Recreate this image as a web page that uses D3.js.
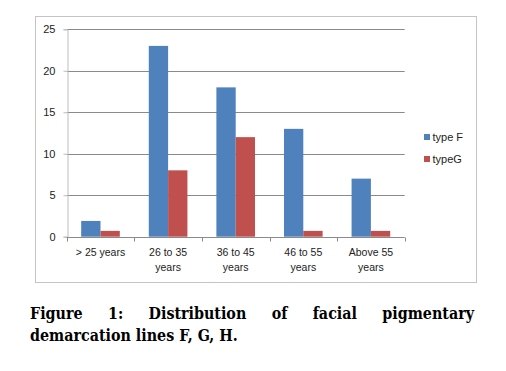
<!DOCTYPE html>
<html>
<head>
<meta charset="utf-8">
<script src="https://cdn.jsdelivr.net/npm/d3@7"></script>
<style>
  body { margin: 0; background: #fff; }
  svg { display: block; }
</style>
</head>
<body>
<svg id="chart" width="506" height="371"></svg>
<script>
// data
let categories = [["> 25 years"], ["26 to 35", "years"], ["36 to 45", "years"], ["46 to 55", "years"], ["Above 55", "years"]];
let typeF = [1.9, 23, 18, 13, 7];
let typeG = [0.7, 8, 12, 0.7, 0.7];
let seriesNames = ["type F", "typeG"];
let seriesColors = ["#4f81bd", "#c0504d"];
let yTicks = [0, 5, 10, 15, 20, 25];
let captionLine1 = ["Figure", "1:", "Distribution", "of", "facial", "pigmentary"];
let captionLine2 = "demarcation lines F, G, H.";

let svg = d3.select("#chart");
let plot = { left: 66.7, right: 404.7, top: 29.3, bottom: 236.7 };

// outer chart border
svg.append("rect")
    .attr("x", 35.5).attr("y", 16.5)
    .attr("width", 441).attr("height", 266)
    .attr("fill", "none")
    .attr("stroke", "#c4c4c4");

let x = d3.scaleBand()
    .domain(d3.range(categories.length))
    .range([plot.left, plot.right]);

let y = d3.scaleLinear()
    .domain([0, 25])
    .range([plot.bottom, plot.top]);

// gridlines
svg.append("g")
    .selectAll("line")
    .data(yTicks.slice(1))
    .enter()
    .append("line")
    .attr("x1", plot.left).attr("x2", plot.right)
    .attr("y1", d => Math.round(y(d)) + 0.5)
    .attr("y2", d => Math.round(y(d)) + 0.5)
    .attr("stroke", "#8a8a8a");

// bars, gap width 150% like the spreadsheet default
let barW = x.bandwidth() / 3.5;
let series = [typeF, typeG];
series.forEach(function (vals, si) {
    svg.append("g")
        .selectAll("rect")
        .data(vals)
        .enter()
        .append("rect")
        .attr("x", (d, i) => x(i) + barW * 0.75 + si * barW)
        .attr("y", d => y(d))
        .attr("width", barW)
        .attr("height", d => y(0) - y(d))
        .attr("fill", seriesColors[si]);
});

// y axis
let yAxis = svg.append("g")
    .attr("transform", "translate(" + (Math.round(plot.left) + 0.5) + ",0)")
    .call(d3.axisLeft(y).tickValues(yTicks).tickSize(4).tickPadding(8));
yAxis.select(".domain").attr("stroke", "#bdbdbd");
yAxis.selectAll(".tick line").attr("stroke", "#bdbdbd");
yAxis.selectAll("text")
    .attr("font-family", "Liberation Sans, Arial, sans-serif")
    .attr("font-size", 11)
    .attr("fill", "#222");

// x axis
let xAxis = svg.append("g")
    .attr("transform", "translate(0," + (Math.round(plot.bottom) + 0.5) + ")");
xAxis.append("line")
    .attr("x1", plot.left).attr("x2", plot.right)
    .attr("stroke", "#8a8a8a");
xAxis.selectAll(".tk")
    .data(d3.range(categories.length + 1))
    .enter()
    .append("line")
    .attr("x1", i => Math.round(plot.left + i * x.step()) + 0.5)
    .attr("x2", i => Math.round(plot.left + i * x.step()) + 0.5)
    .attr("y1", 0).attr("y2", 4)
    .attr("stroke", "#8a8a8a");

let catLabels = svg.append("g")
    .selectAll("text")
    .data(categories)
    .enter()
    .append("text")
    .attr("text-anchor", "middle")
    .attr("font-family", "Liberation Sans, Arial, sans-serif")
    .attr("font-size", 10.5)
    .attr("fill", "#222")
    .attr("x", (d, i) => x(i) + x.bandwidth() / 2)
    .attr("y", 256);
catLabels.selectAll("tspan")
    .data(d => d)
    .enter()
    .append("tspan")
    .attr("x", function () { return d3.select(this.parentNode).attr("x"); })
    .attr("dy", (d, i) => i === 0 ? 0 : 14.7)
    .text(d => d);

// legend
let legend = svg.append("g")
    .selectAll("g")
    .data(seriesNames)
    .enter()
    .append("g")
    .attr("transform", (d, i) => "translate(424," + (134 + i * 22) + ")");
legend.append("rect")
    .attr("width", 6).attr("height", 6)
    .attr("fill", (d, i) => seriesColors[i]);
legend.append("text")
    .attr("x", 8.5).attr("y", 7)
    .attr("font-family", "Liberation Sans, Arial, sans-serif")
    .attr("font-size", 11)
    .attr("fill", "#222")
    .text(d => d);

// caption: second line sized to its width in the picture, first line justified
let capFont = "DejaVu Serif Condensed, DejaVu Serif, serif";
let capLeft = 30, capRight = 474, line2Width = 208;

let line2 = svg.append("text")
    .attr("font-family", capFont)
    .attr("font-weight", "bold")
    .attr("font-size", 16)
    .attr("x", capLeft)
    .attr("y", 341)
    .text(captionLine2);
let capSize = 16 * line2Width / line2.node().getComputedTextLength();
line2.attr("font-size", capSize);

let words = svg.append("g")
    .selectAll("text")
    .data(captionLine1)
    .enter()
    .append("text")
    .attr("font-family", capFont)
    .attr("font-weight", "bold")
    .attr("font-size", capSize)
    .attr("y", 319)
    .text(d => d);
let widths = [];
words.each(function () { widths.push(this.getComputedTextLength()); });
let gap = (capRight - capLeft - d3.sum(widths)) / (captionLine1.length - 1);
let pos = capLeft;
words.attr("x", function (d, i) {
    let p = pos;
    pos += widths[i] + gap;
    return p;
});
</script>
</body>
</html>
